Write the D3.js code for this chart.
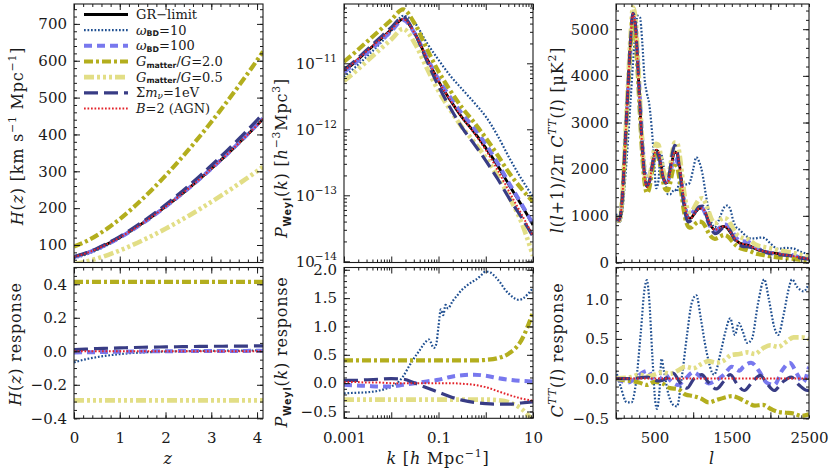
<!DOCTYPE html>
<html><head><meta charset="utf-8">
<script src="https://cdn.jsdelivr.net/npm/d3@7/dist/d3.min.js"></script>
<style>html,body{margin:0;padding:0;background:#fff}svg{display:block}</style>
</head><body>
<svg id="chart" width="830" height="470"></svg>
<script>
// ================= DATA =================
// Panel 1: H(z)
const zGrid   = [0,0.25,0.5,0.75,1,1.25,1.5,1.75,2,2.25,2.5,2.75,3,3.25,3.5,3.75,4,4.13];
const hGR     = [67.7,77.1,89.2,103.8,120.5,139.1,159.3,180.9,203.8,227.9,253.1,279.4,306.8,335.0,364.2,394.3,425.2,442.0];
const hBD10   = [63.2,73.4,86.1,101.2,118.5,137.6,158.2,180.2,203.4,227.9,253.4,280.0,307.7,336.0,365.7,395.9,427.3,444.2];
const hBD100  = [67.2,76.6,88.8,103.4,120.1,138.8,159.1,180.9,203.8,228.1,253.4,279.7,307.4,335.7,364.9,395.1,426.5,443.3];
const hG2     = [95.7,109.0,126.1,146.8,170.4,196.7,225.3,255.8,288.2,322.3,357.9,395.1,433.8,473.7,515.0,557.5,601.2,625.0];
const hG05    = [47.9,54.5,63.1,73.4,85.2,98.3,112.6,127.9,144.1,161.1,178.9,197.5,216.9,236.8,257.5,278.8,300.6,312.5];
const hMnu    = [68.4,78.1,90.6,105.7,122.9,142.2,163.1,185.4,209.1,234.1,260.2,287.5,316.0,345.1,375.5,406.5,438.8,456.1];
const hAGN    = [67.7,77.1,89.2,103.8,120.5,139.1,159.3,180.9,203.8,227.9,253.1,279.4,306.8,335.0,364.2,394.3,425.2,442.0];
const hrBD10  = [-0.066,-0.048,-0.035,-0.025,-0.017,-0.011,-0.007,-0.004,-0.002,0,0.001,0.002,0.003,0.003,0.004,0.004,0.005,0.005];
const hrBD100 = [-0.008,-0.006,-0.005,-0.004,-0.003,-0.002,-0.001,0,0,0.001,0.001,0.001,0.002,0.002,0.002,0.002,0.003,0.003];
const hrG2    = [0.414,0.414,0.414,0.414,0.414,0.414,0.414,0.414,0.414,0.414,0.414,0.414,0.414,0.414,0.414,0.414,0.414,0.414];
const hrG05   = [-0.293,-0.293,-0.293,-0.293,-0.293,-0.293,-0.293,-0.293,-0.293,-0.293,-0.293,-0.293,-0.293,-0.293,-0.293,-0.293,-0.293,-0.293];
const hrMnu   = [0.010,0.013,0.016,0.018,0.020,0.022,0.024,0.025,0.026,0.027,0.028,0.029,0.030,0.030,0.031,0.031,0.032,0.032];
const hrAGN   = [0,0,0,0,0,0,0,0,0,0,0,0,0,0,0,0,0,0];

// Panel 2: P_Weyl(k)
const kGrid  = [0.001,0.00178,0.00316,0.00562,0.01,0.0178,0.0316,0.0562,0.1,0.178,0.316,0.562,1,1.78,3.16,5.62,10];
const pGR    = [7.59e-12,1.07e-11,1.55e-11,2.24e-11,3.24e-11,4.68e-11,2.82e-11,1.20e-11,5.37e-12,2.75e-12,1.51e-12,9.15e-13,5.24e-13,2.82e-13,1.41e-13,7.25e-14,3.55e-14];
const pBD10  = [6.22e-12,8.88e-12,1.30e-11,1.95e-11,3.08e-11,5.24e-11,4.09e-11,2.06e-11,1.13e-11,6.47e-12,4.06e-12,2.56e-12,1.56e-12,8.03e-13,3.68e-13,1.80e-13,9.51e-14];
const pBD100 = [7.36e-12,1.03e-11,1.47e-11,2.11e-11,3.05e-11,4.54e-11,2.82e-11,1.24e-11,5.70e-12,3.05e-12,1.72e-12,1.05e-12,5.93e-13,3.08e-13,1.50e-13,7.53e-14,3.66e-14];
const pG2    = [1.06e-11,1.50e-11,2.17e-11,3.14e-11,4.54e-11,6.55e-11,3.95e-11,1.68e-11,7.52e-12,3.85e-12,2.12e-12,1.28e-12,7.40e-13,4.06e-13,2.16e-13,1.27e-13,7.99e-14];
const pG05   = [5.39e-12,7.60e-12,1.10e-11,1.59e-11,2.30e-11,3.32e-11,2.00e-11,8.54e-12,3.81e-12,1.96e-12,1.07e-12,6.50e-13,3.72e-13,1.98e-13,9.33e-14,3.98e-14,1.21e-14];
const pMnu   = [7.97e-12,1.12e-11,1.64e-11,2.40e-11,3.50e-11,5.01e-11,2.82e-11,1.11e-11,4.51e-12,2.10e-12,1.06e-12,6.04e-13,3.36e-13,1.78e-13,8.90e-14,4.71e-14,2.38e-14];
const pAGN   = [7.74e-12,1.09e-11,1.57e-11,2.26e-11,3.24e-11,4.68e-11,2.82e-11,1.20e-11,5.37e-12,2.75e-12,1.50e-12,8.88e-13,4.88e-13,2.43e-13,1.12e-13,5.29e-14,2.45e-14];
const kFine   = [0.001,0.00178,0.00316,0.00562,0.01,0.0141,0.0178,0.0251,0.0316,0.0398,0.0501,0.0631,0.0794,0.0891,0.1,0.112,0.126,0.141,0.158,0.2,0.251,0.316,0.398,0.501,0.631,0.794,1,1.26,1.58,2.0,2.51,3.16,3.98,5.01,6.31,7.94,10];
const prBD10  = [-0.18,-0.17,-0.16,-0.13,-0.06,0.02,0.12,0.33,0.46,0.58,0.70,0.77,0.62,0.68,1.0,1.30,1.20,1.38,1.32,1.45,1.55,1.65,1.72,1.78,1.83,1.90,1.97,1.95,1.88,1.78,1.66,1.57,1.50,1.47,1.50,1.58,1.68];
const prBD100 = [-0.03,-0.04,-0.05,-0.06,-0.06,-0.03,0.0,0.03,0.06,0.11,0.14,0.15,0.13,0.09,0.06,0.04,0.03];
const prG2    = [0.40,0.40,0.40,0.40,0.40,0.40,0.40,0.40,0.40,0.40,0.40,0.40,0.41,0.44,0.53,0.75,1.25];
const prG05   = [-0.29,-0.29,-0.29,-0.29,-0.29,-0.29,-0.29,-0.29,-0.29,-0.29,-0.29,-0.29,-0.29,-0.30,-0.34,-0.45,-0.66];
const prMnu   = [0.05,0.05,0.06,0.07,0.08,0.07,0.0,-0.08,-0.16,-0.24,-0.30,-0.34,-0.36,-0.37,-0.37,-0.35,-0.33];
const prAGN   = [0.02,0.02,0.01,0.01,0.0,0.0,0.0,0.0,0.0,0.0,-0.01,-0.03,-0.07,-0.14,-0.21,-0.27,-0.31];

// Panel 3: CMB TT
const lGrid  = [2,40,80,120,160,190,220,250,280,310,340,370,400,430,460,490,520,550,580,610,640,670,700,730,760,790,820,850,880,910,940,970,1000,1040,1080,1120,1160,1200,1240,1280,1320,1360,1400,1440,1480,1520,1560,1600,1650,1700,1750,1800,1850,1900,1950,2000,2100,2200,2300,2400,2500];
const cGR    = [950,900,1350,2600,3900,4800,5330,5100,4300,3350,2450,1850,1620,1700,1980,2270,2410,2370,2130,1850,1710,1720,1920,2200,2370,2340,2120,1740,1350,1080,960,950,1010,1100,1160,1160,1060,900,760,700,720,760,775,740,650,550,470,420,395,380,345,300,265,245,230,215,190,160,135,105,80];
const cBD10  = [1045,855,1080,1820,2730,3504,4264,4896,5289,5260,4729,3941,3629,3400,2930,2270,1591,1754,2343,2128,1710,1462,1459,1518,1564,1521,1738,1740,1674,1674,1680,1786,2000,2255,2146,1902,1495,1116,836,756,864,1026,1178,1221,1144,891,752,706,620,551,514,516,530,534,492,409,295,312,300,225,175];
const cBD100 = [950,888,1314,2496,3725,4656,5250,5100,4403,3511,2626,2009,1772,1838,2030,2200,2314,2311,2117,1894,1796,1746,1882,2116,2237,2167,1984,1670,1328,1089,991,1003,1091,1162,1197,1165,1030,846,727,680,716,777,814,807,735,627,526,462,454,447,414,345,292,251,219,201,192,184,152,103,92];
const cG2    = [950,891,1328,2543,3799,4661,5159,4896,4102,3172,2298,1719,1490,1584,1869,2170,2309,2252,2011,1728,1566,1544,1690,1929,2071,2038,1815,1453,1099,862,760,747,788,845,877,858,763,630,541,507,530,568,589,568,504,426,358,315,286,266,235,198,176,164,148,133,110,91,76,56,44];
const cG05   = [950,904,1361,2631,3962,4891,5469,5279,4489,3511,2553,1917,1669,1761,2063,2379,2545,2524,2288,1994,1833,1834,2035,2358,2569,2565,2353,1958,1539,1240,1096,1079,1141,1265,1357,1378,1276,1098,921,843,868,926,953,931,836,716,614,550,521,505,455,393,356,338,322,305,266,234,205,160,120];
const cMnu   = [950,900,1350,2600,3900,4800,5341,5126,4326,3380,2484,1881,1652,1717,1980,2247,2362,2299,2085,1828,1705,1748,1995,2336,2510,2399,2042,1625,1230,959,871,900,997,1117,1201,1211,1054,855,698,620,641,707,752,747,683,541,443,379,339,338,324,296,273,247,217,192,171,157,134,95,69];
const cAGN   = [950,900,1350,2600,3900,4800,5330,5100,4300,3350,2450,1850,1620,1700,1980,2270,2410,2370,2130,1850,1710,1720,1920,2200,2370,2340,2120,1740,1350,1080,960,950,1010,1100,1160,1160,1060,900,760,700,720,760,775,740,650,550,470,420,395,380,345,300,265,245,230,215,190,160,135,105,80];
const lrBD10   = [0,60,140,200,260,320,370,400,430,470,510,530,560,590,620,680,740,790,850,920,980,1040,1100,1170,1270,1360,1420,1480,1540,1590,1640,1700,1760,1840,1920,1980,2050,2100,2170,2230,2280,2350,2430,2500];
const crBD10   = [0.1,-0.1,-0.3,-0.3,-0.04,0.57,1.13,1.24,1.0,0.3,-0.3,-0.38,-0.2,0.25,0.1,-0.2,-0.33,-0.35,0.0,0.55,0.95,1.05,0.75,0.35,0.05,0.35,0.6,0.76,0.55,0.7,0.6,0.45,0.5,0.95,1.25,1.0,0.65,0.55,0.8,1.1,1.25,1.15,1.1,1.2];
const lrBD100  = [0,150,250,350,420,500,560,640,700,800,900,1000,1100,1200,1300,1400,1500,1600,1650,1750,1850,1950,2050,2150,2250,2350,2420,2500];
const crBD100  = [0,-0.05,0,0.08,0.1,-0.05,-0.02,0.05,-0.02,-0.08,0,0.08,0.02,-0.06,-0.02,0.05,0.15,0.1,0.15,0.2,0.1,-0.05,-0.08,0.1,0.2,0.05,-0.05,0.15];
const lrG2     = [0,100,200,300,400,500,600,700,800,900,1000,1100,1200,1300,1400,1500,1600,1700,1800,1900,2000,2100,2200,2300,2400,2500];
const crG2     = [0,-0.02,-0.03,-0.05,-0.08,-0.04,-0.06,-0.12,-0.13,-0.2,-0.22,-0.25,-0.3,-0.27,-0.24,-0.22,-0.25,-0.3,-0.34,-0.33,-0.38,-0.42,-0.43,-0.44,-0.47,-0.45];
const lrG05    = [0,200,300,400,500,600,700,800,900,1000,1100,1200,1300,1400,1500,1600,1700,1800,1900,2000,2100,2200,2300,2400,2500];
const crG05    = [0,0.02,0.05,0.03,0.05,0.08,0.06,0.1,0.15,0.13,0.18,0.22,0.2,0.23,0.3,0.31,0.33,0.31,0.38,0.42,0.4,0.46,0.52,0.52,0.5];
const lrMnu    = [0,200,400,550,650,740,830,920,1010,1110,1200,1300,1400,1480,1570,1660,1760,1870,1960,2050,2150,2270,2370,2480,2500];
const crMnu    = [0,0,0.02,-0.03,0,0.07,-0.05,-0.12,0,0.05,-0.05,-0.13,-0.03,0.05,-0.07,-0.15,-0.05,0.04,-0.07,-0.15,-0.05,0.02,-0.08,-0.15,-0.14];
const lrAGN    = [0,2500];
const crAGN    = [0,0];

// Tick labels
const zTickLabels  = [0,1,2,3,4];
const hTicks       = [100,200,300,400,500,600,700];
const hrTicks      = [-0.4,-0.2,0.0,0.2,0.4];
const kTickLabels  = [0.001,0.1,10];
const kTickText    = ['0.001','0.1','10'];
const pTicks       = [1e-14,1e-13,1e-12,1e-11];
const pTickExp     = ['−14','−13','−12','−11'];
const prTicks      = [-0.5,0.0,0.5,1.0,1.5,2.0];
const lTickLabels  = [500,1500,2500];
const cTicks       = [0,1000,2000,3000,4000,5000];
const crTicks      = [-0.5,0.0,0.5,1.0];

// ================= DRAWING =================
const svg = d3.select('#chart');
const SERIF = "'DejaVu Serif', serif";
const SANS = "'DejaVu Sans', sans-serif";
const INK = '#1a1a1a';

const style = {
  gr:    {c:'#000000', w:2.8, d:null},
  bd10:  {c:'#1f4f91', w:2.2, d:'1.7,1.8'},
  bd100: {c:'#7878ee', w:4.0, d:'8,5'},
  g2:    {c:'#b3ae1e', w:4.2, d:'9,3,3,3'},
  g05:   {c:'#e2de86', w:4.6, d:'10,3,3,3,3,3,3,3'},
  mnu:   {c:'#383c85', w:3.2, d:'14,6'},
  agn:   {c:'#e3242b', w:2.0, d:'1.7,1.8'}
};

const TOP = [262.5, 4], BOT = [418.3, 267.5];
const xZ = d3.scaleLinear().domain([0, 4.13]).range([74, 263]);
const xK = d3.scaleLog().domain([0.001, 10]).range([344, 533]);
const xL = d3.scaleLinear().domain([0, 2500]).range([616, 809]);
const yH = d3.scaleLinear().domain([52.5, 754]).range(TOP);
const yP = d3.scaleLog().domain([9.59e-15, 7.92e-11]).range(TOP);
const yC = d3.scaleLinear().domain([0, 5540]).range(TOP);
const yHr = d3.scaleLinear().domain([-0.40, 0.50]).range(BOT);
const yPr = d3.scaleLinear().domain([-0.62, 2.04]).range(BOT);
const yCr = d3.scaleLinear().domain([-0.50, 1.40]).range(BOT);

function rich(t, segs, base, subOff) {
  let cur = 0;
  const so = subOff == null ? 0.25 : subOff;
  segs.forEach(([s, st]) => {
    const sp = t.append('tspan').text(s);
    let off = 0, fs = base;
    if (st.includes('^')) { off = -0.42 * base; fs = base * 0.68; }
    if (st.includes('_')) { off = so * base; fs = base * 0.68; }
    if (st.includes('s')) { off = so * base; fs = base * 0.6; sp.attr('font-family', SANS).attr('font-weight', 'bold'); }
    if (st.includes('i')) sp.attr('font-style', 'italic');
    if (off - cur !== 0) sp.attr('dy', off - cur);
    sp.attr('font-size', fs);
    cur = off;
  });
}

let clipN = 0;
function panel(x, y) {
  const [x0, x1] = x.range(), [yb, yt] = y.range();
  const id = 'clip' + (clipN++);
  svg.append('clipPath').attr('id', id).append('rect')
    .attr('x', x0).attr('y', yt).attr('width', x1 - x0).attr('height', yb - yt);
  const g = svg.append('g');
  const plot = g.append('g').attr('clip-path', `url(#${id})`);
  return {g, plot, x, y, x0, x1, yb, yt};
}

function styleAxis(s) {
  s.select('.domain').remove();
  s.selectAll('line').attr('stroke', INK).attr('stroke-width', 1);
  s.selectAll('text').attr('font-family', SERIF).attr('font-size', 15).attr('fill', INK);
}

function axes(p, o) {
  const {g, x, y, x0, x1, yb, yt} = p;
  const add = (gen, tr) => g.append('g').attr('transform', tr).call(gen).call(styleAxis);
  [[d3.axisBottom, `translate(0,${yb})`], [d3.axisTop, `translate(0,${yt})`]].forEach(([A, tr]) => {
    add(A(x).tickValues(o.xMin).tickSize(-3).tickSizeOuter(0).tickFormat(''), tr);
    add(A(x).tickValues(o.xMaj).tickSize(-6).tickSizeOuter(0).tickFormat(''), tr);
  });
  [[d3.axisLeft, `translate(${x0},0)`], [d3.axisRight, `translate(${x1},0)`]].forEach(([A, tr]) => {
    add(A(y).tickValues(o.yMin).tickSize(-3).tickSizeOuter(0).tickFormat(''), tr);
    add(A(y).tickValues(o.yMaj).tickSize(-6).tickSizeOuter(0).tickFormat(''), tr);
  });
  if (o.xLab) add(d3.axisBottom(x).tickValues(o.xLab).tickSize(0).tickPadding(14).tickFormat(o.xFmt), `translate(0,${yb})`);
  if (o.yLab) {
    const a = add(d3.axisLeft(y).tickValues(o.yLab).tickSize(0).tickPadding(7).tickFormat(o.yFmt), `translate(${x0},0)`);
    if (o.yPost) o.yPost(a);
  }
  g.append('rect').attr('x', x0).attr('y', yt).attr('width', x1 - x0).attr('height', yb - yt)
    .attr('fill', 'none').attr('stroke', INK).attr('stroke-width', 1.1);
}

function line(p, xs, ys, key) {
  const st = style[key];
  p.plot.append('path').datum(d3.zip(xs, ys))
    .attr('d', d3.line().x(d => p.x(d[0])).y(d => p.y(d[1])).curve(d3.curveMonotoneX))
    .attr('fill', 'none').attr('stroke', st.c).attr('stroke-width', st.w)
    .attr('stroke-dasharray', st.d);
}

function title(cx, cy, rot, segs) {
  const t = svg.append('text')
    .attr('transform', rot ? `translate(${cx + 5.5},${cy}) rotate(-90)` : `translate(${cx},${cy + 5.5})`)
    .attr('text-anchor', 'middle').attr('font-family', SERIF).attr('font-size', 16)
    .attr('letter-spacing', 0.8).attr('fill', INK);
  rich(t, segs, 16);
}

const f1 = d3.format('.1f');
const rng = (a, b, s) => d3.range(Math.round(a / s), Math.round(b / s) + 1).map(i => +(i * s).toFixed(6));
const logMinor = (lo, hi) => { const r = []; for (let e = lo; e <= hi; e++) for (let m = 2; m <= 9; m++) r.push(m * Math.pow(10, e)); return r; };

// ---- Panel 1 upper ----
const P1u = panel(xZ, yH);
[[hGR,'gr'],[hBD10,'bd10'],[hBD100,'bd100'],[hG2,'g2'],[hG05,'g05'],[hMnu,'mnu'],[hAGN,'agn']].forEach(([v,k]) => line(P1u, zGrid, v, k));
axes(P1u, {xMaj: zTickLabels, xMin: rng(0, 4.1, 0.2), yMaj: hTicks, yMin: rng(60, 740, 20), yLab: hTicks, yFmt: d3.format('d')});
// ---- Panel 1 lower ----
const P1l = panel(xZ, yHr);
[[hrBD10,'bd10'],[hrBD100,'bd100'],[hrG2,'g2'],[hrG05,'g05'],[hrMnu,'mnu'],[hrAGN,'agn']].forEach(([v,k]) => line(P1l, zGrid, v, k));
axes(P1l, {xMaj: zTickLabels, xMin: rng(0, 4.1, 0.2), yMaj: hrTicks, yMin: rng(-0.4, 0.5, 0.05), yLab: hrTicks, yFmt: f1, xLab: zTickLabels, xFmt: d3.format('d')});

// ---- Panel 2 upper ----
const P2u = panel(xK, yP);
[[pGR,'gr'],[pBD10,'bd10'],[pBD100,'bd100'],[pG2,'g2'],[pG05,'g05'],[pMnu,'mnu'],[pAGN,'agn']].forEach(([v,k]) => line(P2u, kGrid, v, k));
const kMaj = [0.001,0.01,0.1,1,10];
axes(P2u, {xMaj: kMaj, xMin: logMinor(-3, 0), yMaj: pTicks, yMin: logMinor(-15, -11).filter(v => v > 9.59e-15 && v < 7.92e-11),
  yLab: pTicks, yFmt: () => '10',
  yPost: a => a.selectAll('.tick text').each(function(d, i) {
    d3.select(this).append('tspan').attr('dy', -6.5).attr('font-size', 10.5).text(pTickExp[i]);
  })});
// ---- Panel 2 lower ----
const P2l = panel(xK, yPr);
line(P2l, kFine, prBD10, 'bd10');
[[prBD100,'bd100'],[prG2,'g2'],[prG05,'g05'],[prMnu,'mnu'],[prAGN,'agn']].forEach(([v,k]) => line(P2l, kGrid, v, k));
axes(P2l, {xMaj: kMaj, xMin: logMinor(-3, 0), yMaj: prTicks, yMin: rng(-0.6, 2.0, 0.1), yLab: prTicks, yFmt: f1,
  xLab: kTickLabels, xFmt: (d) => kTickText[kTickLabels.indexOf(d)]});

// ---- Panel 3 upper ----
const P3u = panel(xL, yC);
[[cGR,'gr'],[cBD10,'bd10'],[cBD100,'bd100'],[cG2,'g2'],[cG05,'g05'],[cMnu,'mnu'],[cAGN,'agn']].forEach(([v,k]) => line(P3u, lGrid, v, k));
axes(P3u, {xMaj: [0,1000,2000], xMin: rng(0, 2500, 100), yMaj: cTicks, yMin: rng(0, 5400, 200), yLab: cTicks, yFmt: d3.format('d')});
// ---- Panel 3 lower ----
const P3l = panel(xL, yCr);
[[lrBD10,crBD10,'bd10'],[lrBD100,crBD100,'bd100'],[lrG2,crG2,'g2'],[lrG05,crG05,'g05'],[lrMnu,crMnu,'mnu'],[lrAGN,crAGN,'agn']].forEach(([l,v,k]) => line(P3l, l, v, k));
axes(P3l, {xMaj: [0,1000,2000], xMin: rng(0, 2500, 100), yMaj: crTicks, yMin: rng(-0.5, 1.4, 0.1), yLab: crTicks, yFmt: f1,
  xLab: lTickLabels, xFmt: d3.format('d')});

// ---- Legend ----
const legendKeys = ['gr','bd10','bd100','g2','g05','mnu','agn'];
const legendLabels = [
  [['GR−limit','']],
  [['ω','i'],['BD','s'],['=10','']],
  [['ω','i'],['BD','s'],['=100','']],
  [['G','i'],['matter','s'],['/',''],['G','i'],['=2.0','']],
  [['G','i'],['matter','s'],['/',''],['G','i'],['=0.5','']],
  [['Σ',''],['m','i'],['ν','i_'],['=1eV','']],
  [['B','i'],['=2 (AGN)','']]
];
const legY = d3.scaleLinear().domain([0, 6]).range([14.5, 108.5]);
legendKeys.forEach((k, i) => {
  const st = style[k], y = legY(i);
  P1u.g.append('line').attr('x1', 84).attr('x2', 128).attr('y1', y).attr('y2', y)
    .attr('stroke', st.c).attr('stroke-width', st.w).attr('stroke-dasharray', st.d);
  const t = P1u.g.append('text').attr('x', 136).attr('y', y + 4.5).attr('font-family', SERIF)
    .attr('font-size', 13).attr('fill', INK);
  rich(t, legendLabels[i], 13, 0.14);
});

// ---- Axis titles ----
title(17, 136, true, [['H','i'],['(',''],['z','i'],[') [km s',''],['−1','^'],[' Mpc',''],['−1','^'],[']','']]);
title(15, 344, true, [['H','i'],['(',''],['z','i'],[')  response','']]);
title(281, 158, true, [['P','i'],['Weyl','s'],['(',''],['k','i'],[') [',''],['h','i'],['−3','^'],['Mpc',''],['3','^'],[']','']]);
title(281, 352, true, [['P','i'],['Weyl','s'],['(',''],['k','i'],[')  response','']]);
title(557, 140, true, [['l','i'],['(',''],['l','i'],['+1)/2π ',''],['C','i'],['TT','^i'],['(',''],['l','i'],[') [μK',''],['2','^'],[']','']]);
title(557, 350, true, [['C','i'],['TT','^i'],['(',''],['l','i'],[')  response','']]);
title(168, 458, false, [['z','i']]);
title(438, 458, false, [['k','i'],[' [',''],['h','i'],[' Mpc',''],['−1','^'],[']','']]);
title(712, 458, false, [['l','i']]);
</script>
</body></html>
